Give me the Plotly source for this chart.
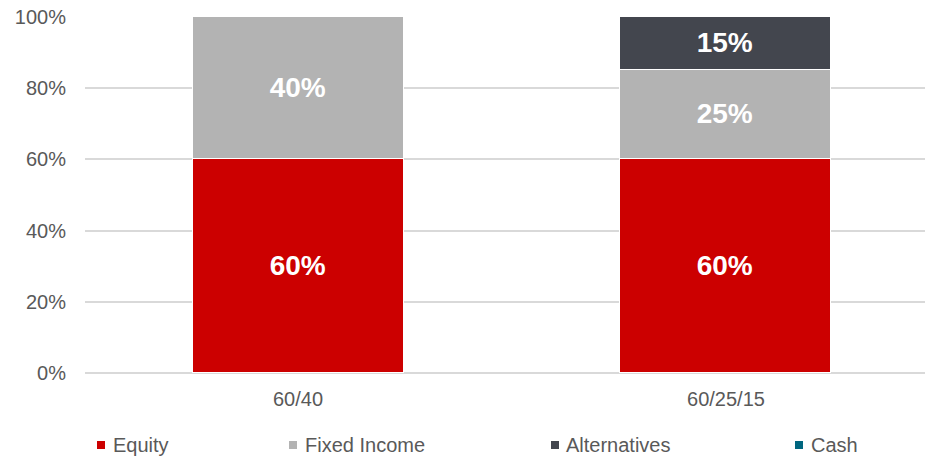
import plotly.graph_objects as go

categories = ["60/40", "60/25/15"]
equity = [60, 60]
fixed_income = [40, 25]
alternatives = [0, 15]
cash = [0, 0]

series_names = ["Equity", "Fixed Income", "Alternatives", "Cash"]
series_values = [equity, fixed_income, alternatives, cash]
series_colors = ["#CC0000", "#B3B3B3", "#43464E", "#00667F"]

y_ticks = [0, 20, 40, 60, 80, 100]

W, H = 928, 458
L, R, T, B = 85, 3, 17, 85
PW = W - L - R
PH = H - T - B

fig = go.Figure()
for name, vals, col in zip(series_names, series_values, series_colors):
    fig.add_trace(go.Bar(
        x=categories, y=vals, name=name,
        marker=dict(color=col, line=dict(color="white", width=1.5)),
        text=[f"{v}%" if v else "" for v in vals],
        textposition="inside", insidetextanchor="middle",
        textangle=0, constraintext="none",
        textfont=dict(family="Liberation Sans, Arial, sans-serif", size=28, color="white", weight="bold"),
        width=0.493, showlegend=False, hoverinfo="skip",
    ))

def px_x(px):
    return (px - L) / PW

def px_y(py):
    return (H - B - py) / PH

legend_pos = [(97, 111), (289, 303), (551, 564), (795, 809)]
for (sq, tx), name, col in zip(legend_pos, series_names, series_colors):
    fig.add_shape(type="rect", xref="paper", yref="paper",
                  x0=px_x(sq), x1=px_x(sq + 8), y0=px_y(441), y1=px_y(449),
                  fillcolor=col, line=dict(width=0))
    fig.add_annotation(xref="paper", yref="paper", x=px_x(tx), y=px_y(445),
                       text=name, showarrow=False, xanchor="left", yanchor="middle",
                       font=dict(family="Liberation Sans, Arial, sans-serif", size=20, color="#595959"))

fig.update_layout(
    barmode="stack",
    width=W, height=H,
    margin=dict(l=L, r=R, t=T, b=B),
    paper_bgcolor="white", plot_bgcolor="white",
    font=dict(family="Liberation Sans, Arial, sans-serif", size=20, color="#595959"),
    bargap=0,
)
fig.update_xaxes(range=[-0.4977, 1.465], showgrid=False, showline=False, zeroline=False,
                 ticks="", ticklabelstandoff=12,
                 tickfont=dict(size=20, color="#595959"))
fig.update_yaxes(range=[0, 100], tickvals=y_ticks, ticktext=[f"{v}%" for v in y_ticks],
                 showgrid=True, gridcolor="#D9D9D9", gridwidth=1.5,
                 zeroline=True, zerolinecolor="#D9D9D9", zerolinewidth=1.5,
                 showline=False, ticks="", ticklabelstandoff=18,
                 tickfont=dict(size=20, color="#595959"))

fig.write_html("out.html", config={"displayModeBar": False},
               post_script="document.body.style.margin='0';document.body.style.padding='0';document.body.style.overflow='hidden';")
